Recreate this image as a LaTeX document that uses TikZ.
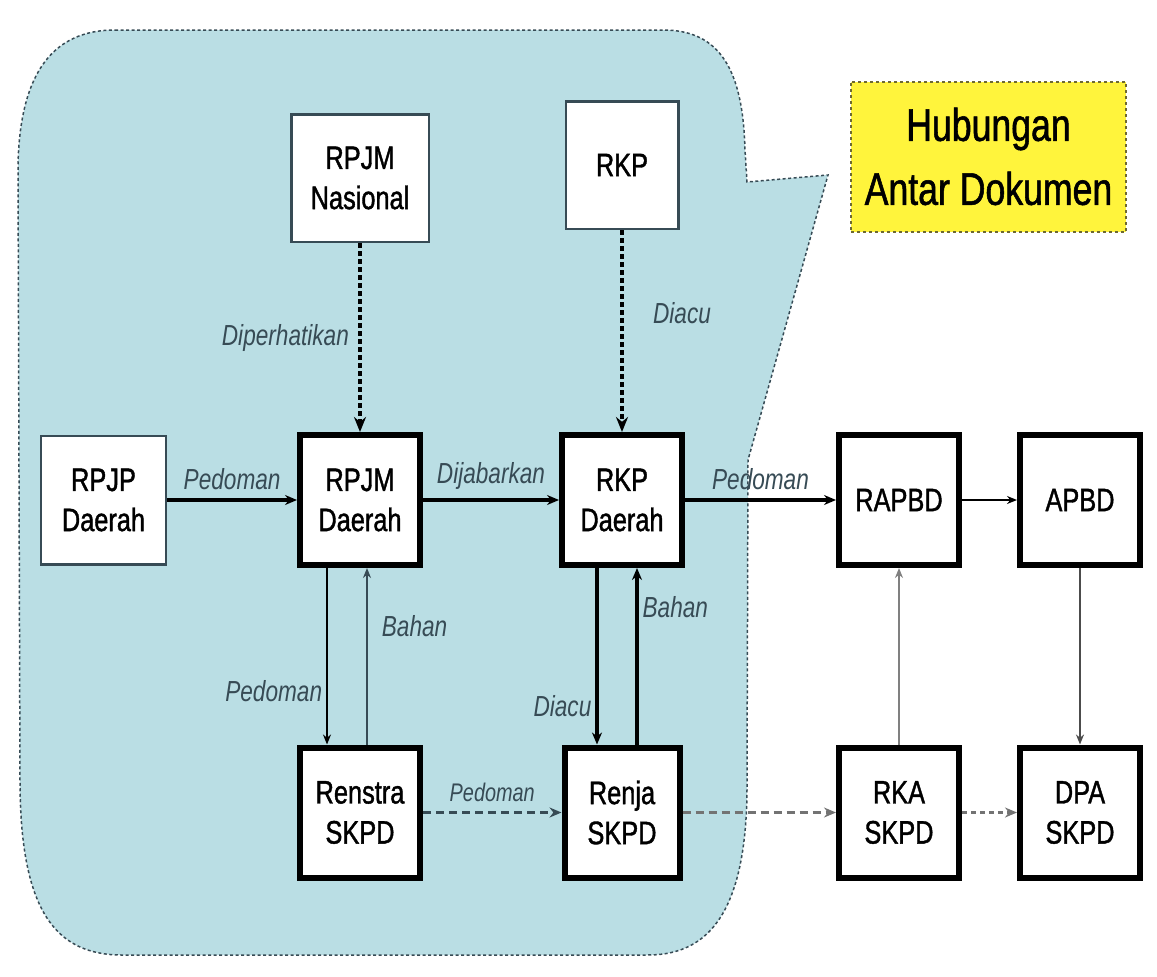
\documentclass[tikz,border=0pt]{standalone}
\usepackage{fontspec}
\setmainfont{Liberation Sans}[FakeStretch=0.78]
\newfontfamily\boxfont{Liberation Sans}[FakeStretch=0.78, FakeBold=1.2]
\usepackage{xcolor}
\usetikzlibrary{arrows.meta}

\definecolor{calloutblue}{RGB}{186,222,228}
\definecolor{titleyellow}{RGB}{255,244,60}
\definecolor{slategray}{RGB}{55,75,85}
\definecolor{olivedot}{RGB}{110,105,50}

\begin{document}
\begin{tikzpicture}[
          docbox/.style={draw=black, line width=0.12cm, fill=white, minimum width=2.4cm, minimum height=2.6cm, align=center, inner sep=0pt, font=\boxfont\fontsize{18.5}{22.8}\selectfont},
          thinbox/.style={docbox, draw=slategray, line width=0.05cm},
          titlebox/.style={draw=olivedot, fill=titleyellow, line width=0.04cm, dash pattern=on 0.06cm off 0.06cm, minimum width=5.5cm, minimum height=3cm, align=center, font=\boxfont\fontsize{26}{36.4}\selectfont},
          lbl/.style={font=\itshape\fontsize{16.5}{18}\selectfont, text=slategray, inner sep=0.08cm},
          arrow/.style={-{Stealth[length=0.24cm, width=0.2cm]}, line width=0.065cm},
          dotarrow/.style={-{Stealth[length=0.3cm, width=0.24cm]}, line width=0.085cm, dash pattern=on 0.09cm off 0.07cm},
          thinarrow/.style={-{Stealth[length=0.2cm, width=0.16cm]}, line width=0.035cm},
          dasharrow/.style={arrow, dash pattern=on 0.16cm off 0.1cm}
        ]
          \useasboundingbox (0,0) rectangle (23.14,-19.54);

          % Callout area
          \draw[slategray, fill=calloutblue, line width=0.03cm, dash pattern=on 0.06cm off 0.05cm]
            (2.3,-0.6) -- (13.26,-0.6) .. controls (14.4,-0.6) and (14.86,-1.4) .. (14.9,-3.0)
            -- (14.94,-3.64) -- (16.56,-3.5) -- (14.96,-9.2) -- (14.94,-15.6)
            .. controls (14.96,-18.2) and (14.2,-19.1) .. (12.96,-19.1) -- (2.44,-19.1)
            .. controls (1.1,-19.1) and (0.4,-18.2) .. (0.4,-15.6) -- (0.36,-3.3)
            .. controls (0.4,-1.4) and (1.1,-0.6) .. (2.3,-0.6) -- cycle;

          % Title
          \node[titlebox] (title) at (19.77,-3.13) {Hubungan\\Antar Dokumen};

          % National documents
          \node[thinbox, minimum width=2.75cm, minimum height=2.55cm] (rpjmnas) at (7.2,-3.56) {RPJM\\Nasional};
          \node[thinbox, minimum width=2.25cm, minimum height=2.55cm] (rkp) at (12.44,-3.3) {RKP};

          % Regional planning
          \node[thinbox, minimum width=2.5cm, minimum height=2.57cm] (rpjpd) at (2.07,-10.0) {RPJP\\Daerah};
          \node[docbox] (rpjmd) at (7.2,-10.0) {RPJM\\Daerah};
          \node[docbox] (rkpd) at (12.44,-10.0) {RKP\\Daerah};
          \node[docbox] (rapbd) at (17.98,-10.0) {RAPBD};
          \node[docbox] (apbd) at (21.6,-10.0) {APBD};

          % SKPD documents
          \node[docbox] (renstra) at (7.2,-16.25) {Renstra\\SKPD};
          \node[docbox, minimum width=2.3cm] (renja) at (12.44,-16.25) {Renja\\SKPD};
          \node[docbox] (rka) at (17.98,-16.25) {RKA\\SKPD};
          \node[docbox] (dpa) at (21.6,-16.25) {DPA\\SKPD};

          % Dotted arrows from national level
          \draw[dotarrow] (rpjmnas) -- (rpjmd) node[lbl, left, midway, xshift=-0.1cm] {Diperhatikan};
          \draw[dotarrow] (rkp) -- (rkpd) node[lbl, right, pos=0.41, xshift=0.5cm] {Diacu};

          % Main row
          \draw[arrow] (rpjpd) -- (rpjmd) node[lbl, above, midway, yshift=0.1cm] {Pedoman};
          \draw[arrow] (rpjmd) -- (rkpd) node[lbl, above, midway, yshift=0.1cm] {Dijabarkan};
          \draw[arrow] (rkpd) -- (rapbd) node[lbl, above, midway, yshift=0.1cm] {Pedoman};
          \draw[thinarrow, line width=0.045cm] (rapbd) -- (apbd);

          % Vertical links
          \draw[thinarrow] ([xshift=-0.66cm]rpjmd.south) -- ([xshift=-0.66cm]renstra.north) node[lbl, left, pos=0.7] {Pedoman};
          \draw[thinarrow, slategray] ([xshift=0.14cm]renstra.north) -- ([xshift=0.14cm]rpjmd.south) node[lbl, right, pos=0.67, xshift=0.2cm] {Bahan};
          \draw[arrow] ([xshift=-0.5cm]rkpd.south) -- ([xshift=-0.5cm]renja.north) node[lbl, left, pos=0.78] {Diacu};
          \draw[arrow] ([xshift=0.3cm]renja.north) -- ([xshift=0.3cm]rkpd.south) node[lbl, right, pos=0.78] {Bahan};
          \draw[thinarrow, gray] (rka) -- (rapbd);
          \draw[thinarrow, black!70] (apbd) -- (dpa);

          % Dashed lower row
          \draw[dasharrow, slategray] (renstra) -- (renja) node[lbl, above, midway, yshift=0.1cm, font=\itshape\fontsize{14.5}{16}\selectfont] {Pedoman};
          \draw[dasharrow, black!55] (renja) -- (rka);
          \draw[dasharrow, black!55, dash pattern=on 0.1cm off 0.08cm] (rka) -- (dpa);

        \end{tikzpicture}
\end{document}
